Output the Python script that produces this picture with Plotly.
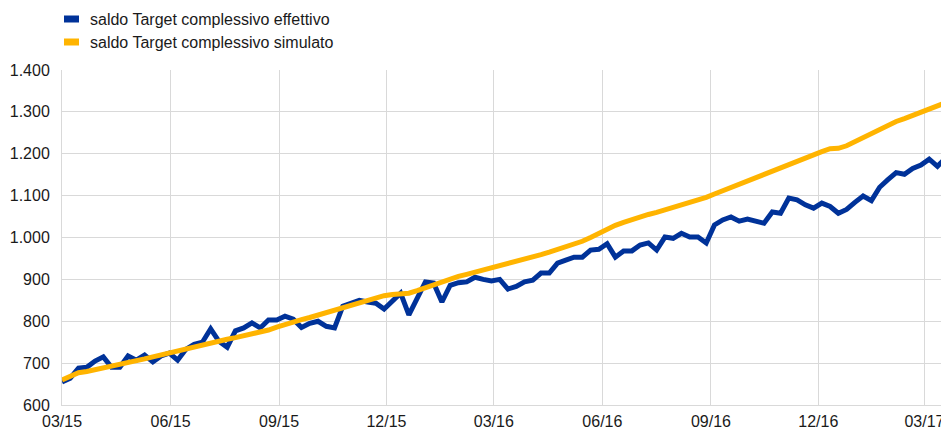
import plotly.graph_objects as go
import pandas as pd

# weekly observations, EUR bn
dates = pd.date_range("2015-03-01", periods=108, freq="7D")

effettivo = [
    655, 664, 688, 690, 705, 715, 690, 690, 717, 707,
    719, 703, 717, 724, 707, 733, 745, 750, 782, 752,
    738, 777, 784, 796, 784, 803, 803, 812, 805, 785,
    795, 800, 788, 784, 836, 843, 850, 846, 843, 829,
    848, 867, 815, 855, 894, 891, 846, 886, 892, 894,
    905, 900, 896, 900, 877, 883, 894, 898, 915, 915,
    939, 946, 953, 953, 970, 972, 985, 953, 968, 968,
    982, 987, 970, 1001, 998, 1010, 1001, 1001, 987, 1030,
    1042, 1049, 1039, 1044, 1040, 1034, 1061, 1058, 1094, 1090,
    1078, 1070, 1082, 1074, 1058, 1067, 1084, 1099, 1088, 1120,
    1138, 1155, 1151, 1165, 1173, 1187, 1170, 1190,
]

simulato = [
    660, 669, 677, 680, 684, 688, 692, 696, 700, 705,
    710, 715, 720, 725, 729, 733, 738, 742, 747, 752,
    757, 761, 765, 769, 773, 779, 786, 793, 799, 804,
    809, 815, 820, 826, 833, 838, 843, 849, 855, 861,
    864, 865, 867, 873, 880, 888, 895, 902, 907, 912,
    917, 922, 926, 931, 936, 941, 947, 953, 959, 965,
    971, 978, 985, 991, 1000, 1010, 1021, 1029, 1036, 1043,
    1049, 1055, 1060, 1066, 1072, 1077, 1082, 1087, 1096, 1104,
    1112, 1119, 1126, 1135, 1143, 1151, 1159, 1167, 1175, 1183,
    1190, 1197, 1205, 1212, 1213, 1219, 1229, 1238, 1248, 1257,
    1267, 1277, 1284, 1291, 1298, 1306, 1314, 1322,
]

series_names = ["saldo Target complessivo effettivo", "saldo Target complessivo simulato"]
series_colors = ["#003299", "#ffb400"]

W, H = 941, 429
L, R, T, B = 62, 0, 70, 24
plot_w = W - L - R
plot_h = H - T - B

fig = go.Figure()

fig.add_trace(go.Scatter(x=dates, y=effettivo, mode="lines", name=series_names[0],
                         line=dict(color=series_colors[0], width=5)))
fig.add_trace(go.Scatter(x=dates, y=simulato, mode="lines", name=series_names[1],
                         line=dict(color=series_colors[1], width=5)))

# legend drawn by hand: small colour keys + labels above the plot
for k, (name, col) in enumerate(zip(series_names, series_colors)):
    yc = 19 + 23 * k  # pixels from top of figure
    ypaper = (H - B - yc) / plot_h
    fig.add_shape(type="rect", xref="paper", yref="paper",
                  x0=2 / plot_w, x1=17 / plot_w,
                  y0=ypaper - 3.5 / plot_h, y1=ypaper + 3.5 / plot_h,
                  fillcolor=col, line_width=0)
    fig.add_annotation(x=26 / plot_w, y=ypaper, xref="paper", yref="paper",
                       text=name, showarrow=False, xanchor="left", yanchor="middle",
                       font=dict(size=16, color="#1a1a1a"))

fig.update_layout(
    width=W, height=H,
    margin=dict(l=L, r=R, t=T, b=B),
    paper_bgcolor="white", plot_bgcolor="white",
    font=dict(family="Liberation Sans, Arial, sans-serif", size=16, color="#1a1a1a"),
    separators=",.",
    showlegend=False,
)

fig.update_xaxes(
    range=["2015-03-01", "2017-03-15"],
    tickvals=pd.date_range("2015-03-01", "2017-03-01", freq="3MS"),
    tickformat="%m/%y",
    showgrid=True, gridcolor="#d9d9d9", gridwidth=1,
    showline=True, linecolor="#d9d9d9", linewidth=1,
    ticks="", automargin=False, ticklabeloverflow="allow", ticklabelstandoff=2,
)
fig.update_yaxes(
    range=[600, 1400], dtick=100, tickformat=",d",
    showgrid=True, gridcolor="#d9d9d9", gridwidth=1,
    showline=True, linecolor="#d9d9d9", linewidth=1,
    ticks="", zeroline=False, automargin=False, ticklabelstandoff=8,
)

fig.write_html("out.html", config={"displayModeBar": False},
               post_script="document.body.style.margin='0';document.body.style.overflow='hidden';")
